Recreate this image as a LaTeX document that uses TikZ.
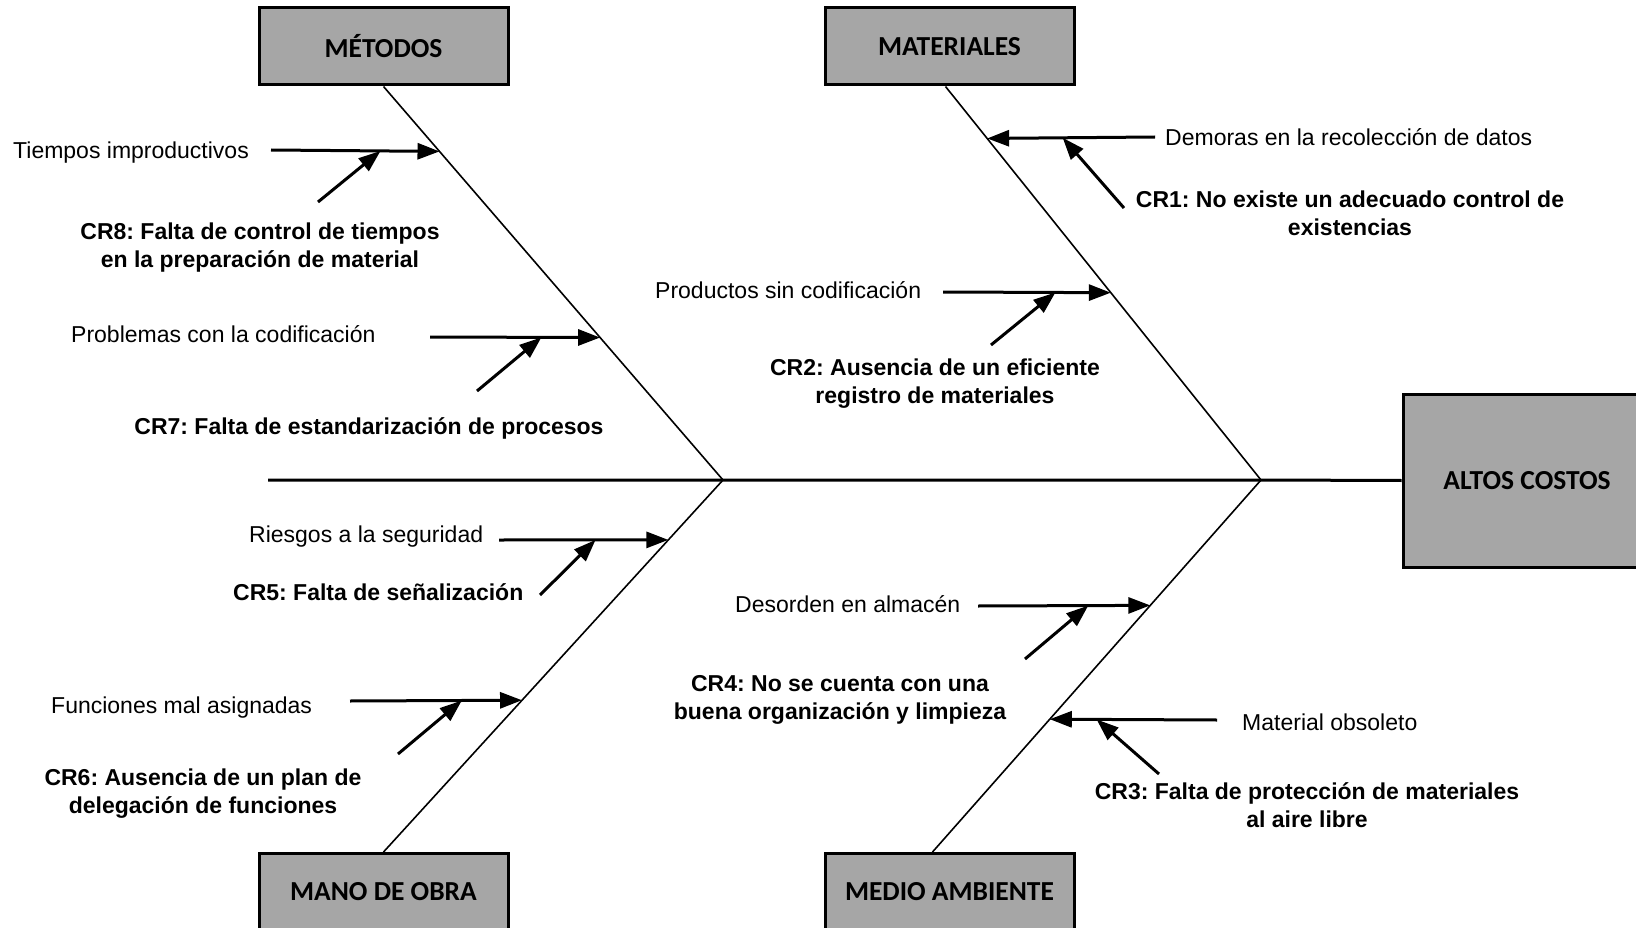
\documentclass[tikz,border=0pt]{standalone}
\usepackage{fontspec}
\setmainfont{Liberation Sans}
\newfontfamily\boxfont{Carlito}
\usetikzlibrary{arrows.meta,calc}
\definecolor{boxgray}{RGB}{166,166,166}
\frenchspacing

\begin{document}
\begin{tikzpicture}[x=1pt,y=-1pt,
    catbox/.style={draw,line width=3pt,fill=boxgray,minimum width=249pt,minimum height=77pt,
        font=\boxfont\bfseries\fontsize{27.5}{33}\selectfont},
    bone/.style={line width=1.6pt},
    spine/.style={line width=3pt},
    cause/.style={line width=3pt,-{Triangle[length=22pt,width=16pt]}},
    lbl/.style={anchor=west,inner sep=0pt,font=\fontsize{23}{28}\selectfont},
    crlbl/.style={align=center,inner sep=0pt,font=\bfseries\fontsize{23}{28}\selectfont}]
    \useasboundingbox (0,0) rectangle (1636,928);
    % categorias
    \node[catbox] (metodos) at (383.5,46.5) {MÉTODOS};
    \node[catbox] (materiales) at (949.5,46.5) {MATERIALES};
    \node[catbox] (mano) at (383.5,892) {MANO DE OBRA};
    \node[catbox] (medio) at (949.5,892) {MEDIO AMBIENTE};
    \node[catbox, minimum width=248pt, minimum height=173pt] (costos) at (1527,480.5) {ALTOS COSTOS};
    % espina
    \coordinate (cola) at (268,480);
    \coordinate (j1) at (723,480);
    \coordinate (j2) at (1261,480);
    \draw[spine] (cola) -- (j1) -- (j2) -- (costos.west);
    \draw[bone] (metodos.south) -- (j1) -- (mano.north);
    \draw[bone] ([xshift=-4]materiales.south) -- (j2) -- ([xshift=-17]medio.north);
    % puntos sobre las espinas
    \path (metodos.south) -- (j1) coordinate[pos=0.165] (m1) coordinate[pos=0.638] (m2);
    \path ([xshift=-4]materiales.south) -- (j2) coordinate[pos=0.132] (a1) coordinate[pos=0.524] (a2);
    \path (j1) -- (mano.north) coordinate[pos=0.161] (b1) coordinate[pos=0.592] (b2);
    \path (j2) -- ([xshift=-17]medio.north) coordinate[pos=0.337] (e1) coordinate[pos=0.643] (e2);

    % metodos
    \coordinate (t1) at (271,150);
    \coordinate (s1) at (318,202);
    \node[lbl] (tiempos) at (13,153) {Tiempos improductivos};
    \draw[cause] (t1) -- coordinate[pos=0.65] (k1) (m1);
    \draw[cause] (s1) -- (k1);
    \node[crlbl] (cr8) at (260,248) {CR8: Falta de control de tiempos\\en la preparación de material};
    \coordinate (t2) at (430,337);
    \coordinate (s2) at (477,391);
    \node[lbl] (problemas) at (71,334) {Problemas con la codificación};
    \draw[cause] (t2) -- coordinate[pos=0.655] (k2) (m2);
    \draw[cause] (s2) -- (k2);
    \node[crlbl] (cr7) at (369,428) {CR7: Falta de estandarización de procesos};

    % materiales
    \coordinate (t3) at (1155,137);
    \coordinate (s3) at (1124,208);
    \node[lbl] (demoras) at (1165,137) {Demoras en la recolección de datos};
    \draw[cause] (t3) -- coordinate[pos=0.55] (k3) (a1);
    \draw[cause] (s3) -- (k3);
    \node[crlbl] (cr1) at (1350,213) {CR1: No existe un adecuado control de\\existencias};
    \coordinate (t4) at (943,292);
    \coordinate (s4) at (991,345);
    \node[lbl] (productos) at (655,290) {Productos sin codificación};
    \draw[cause] (t4) -- coordinate[pos=0.67] (k4) (a2);
    \draw[cause] (s4) -- (k4);
    \node[crlbl] (cr2) at (935,384) {CR2: Ausencia de un eficiente\\registro de materiales};

    % mano de obra
    \coordinate (t5) at (499,540);
    \coordinate (s5) at (540,595);
    \node[lbl] (riesgos) at (249,537) {Riesgos a la seguridad};
    \draw[cause] (t5) -- coordinate[pos=0.57] (k5) (b1);
    \draw[cause] (s5) -- (k5);
    \node[lbl, font=\bfseries\fontsize{23}{28}\selectfont] (cr5) at (233,592) {CR5: Falta de señalización};
    \coordinate (t6) at (350,701);
    \coordinate (s6) at (398,754);
    \node[lbl] (funciones) at (51,708) {Funciones mal asignadas};
    \draw[cause] (t6) -- coordinate[pos=0.65] (k6) (b2);
    \draw[cause] (s6) -- (k6);
    \node[crlbl] (cr6) at (203,794) {CR6: Ausencia de un plan de\\delegación de funciones};

    % medio ambiente
    \coordinate (t7) at (978,606);
    \coordinate (s7) at (1025,659);
    \node[lbl] (desorden) at (735,604) {Desorden en almacén};
    \draw[cause] (t7) -- coordinate[pos=0.64] (k7) (e1);
    \draw[cause] (s7) -- (k7);
    \node[crlbl] (cr4) at (840,700) {CR4: No se cuenta con una\\buena organización y limpieza};
    \coordinate (t8) at (1217,720);
    \coordinate (s8) at (1159,774);
    \node[lbl] (obsoleto) at (1242,722) {Material obsoleto};
    \draw[cause] (t8) -- coordinate[pos=0.72] (k8) (e2);
    \draw[cause] (s8) -- (k8);
    \node[crlbl] (cr3) at (1307,805) {CR3: Falta de protección de materiales\\al aire libre};
\end{tikzpicture}
\end{document}
